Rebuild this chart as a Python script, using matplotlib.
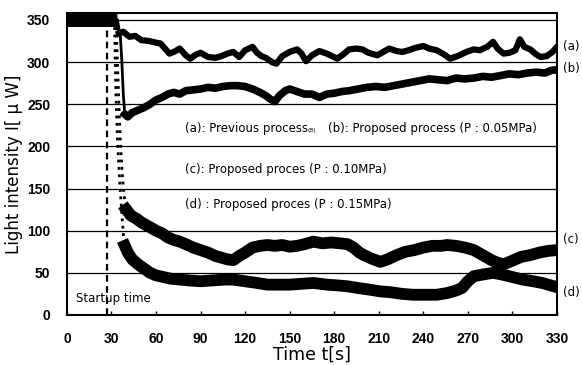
import numpy as np
import matplotlib
matplotlib.use("Agg")
import matplotlib.pyplot as plt

plt.rcParams['font.family'] = ['DejaVu Sans']

# (a) previous process
ta = [0, 33, 35, 38, 42, 46, 50, 55, 60, 63, 66, 69, 72, 76, 80, 83, 87, 90, 95, 100,
      104, 108, 112, 116, 120, 125, 128, 131, 134, 138, 141, 145, 150, 155, 158, 161,
      165, 170, 175, 182, 186, 190, 195, 199, 203, 209, 213, 217, 222, 226, 230, 235,
      240, 244, 249, 254, 258, 263, 269, 274, 278, 283, 287, 290, 294, 298, 302, 305,
      308, 312, 316, 319, 323, 327, 330]
va = [350, 350, 334, 336, 330, 331, 326, 325, 323, 322, 316, 310, 312, 316, 308, 304,
      309, 311, 306, 305, 307, 310, 312, 306, 314, 318, 311, 307, 305, 300, 298, 307,
      312, 315, 310, 301, 308, 313, 310, 304, 309, 315, 316, 315, 311, 308, 312, 316,
      313, 312, 314, 317, 319, 316, 314, 309, 304, 307, 312, 315, 314, 318, 324, 316,
      310, 311, 314, 327, 318, 315, 309, 306, 307, 312, 318]

# (b) proposed, P = 0.05 MPa
tb = [0, 34, 36, 37, 38, 39, 41, 44, 48, 52, 56, 60, 64, 68, 72, 76, 80, 85, 90, 95,
      100, 105, 110, 115, 120, 125, 130, 134, 137, 140, 143, 147, 150, 155, 160, 165,
      170, 175, 180, 185, 190, 196, 202, 208, 214, 220, 226, 232, 238, 244, 250, 256,
      262, 268, 274, 280, 286, 292, 298, 304, 310, 316, 322, 326, 330]
vb = [350, 350, 330, 300, 260, 238, 235, 240, 243, 246, 250, 255, 258, 262, 264, 262,
      266, 267, 268, 270, 269, 271, 272, 272, 271, 268, 264, 260, 256, 253, 260, 266,
      268, 265, 262, 262, 258, 262, 263, 265, 266, 268, 270, 271, 270, 272, 274, 276,
      278, 280, 279, 278, 281, 280, 281, 283, 282, 284, 286, 285, 287, 288, 287, 290, 291]

# (c) proposed, P = 0.10 MPa
tc = [0, 33, 34, 35, 36, 37, 38, 39, 40, 43, 47, 50, 55, 60, 64, 68, 72, 76, 80, 85,
      90, 95, 100, 104, 108, 112, 116, 120, 125, 130, 135, 140, 145, 150, 155, 160,
      166, 172, 178, 184, 189, 193, 197, 200, 205, 211, 216, 222, 228, 234, 240, 246,
      252, 256, 262, 268, 274, 280, 286, 290, 294, 298, 302, 306, 312, 318, 324, 330]
vc = [350, 350, 300, 250, 205, 175, 150, 135, 125, 118, 114, 110, 105, 100, 97, 92,
      89, 87, 84, 80, 77, 74, 70, 68, 66, 65, 70, 74, 80, 82, 83, 82, 83, 81, 82, 84,
      87, 85, 86, 85, 84, 80, 74, 71, 67, 63, 66, 71, 75, 77, 80, 82, 82, 83, 82, 80,
      77, 71, 65, 62, 60, 63, 66, 69, 71, 74, 76, 77]

# (d) proposed, P = 0.15 MPa
td = [0, 32, 33, 34, 35, 36, 37, 38, 39, 41, 44, 48, 52, 56, 60, 65, 70, 76, 82, 90,
      98, 106, 112, 120, 128, 135, 143, 150, 158, 166, 175, 183, 189, 196, 204, 211,
      218, 226, 233, 241, 249, 256, 262, 266, 270, 274, 280, 287, 293, 300, 307, 314,
      320, 326, 330]
vd = [350, 350, 260, 210, 175, 145, 120, 95, 82, 74, 66, 60, 55, 50, 47, 45, 43, 42,
      41, 40, 41, 42, 42, 40, 38, 36, 36, 36, 37, 38, 36, 35, 34, 32, 30, 28, 27, 25,
      24, 24, 24, 26, 29, 32, 40, 46, 48, 50, 48, 45, 42, 40, 38, 35, 33]

startup = 27
yticks = [0, 50, 100, 150, 200, 250, 300, 350]
xticks = list(range(0, 331, 30))

fig = plt.figure(figsize=(5.82, 3.65), dpi=100)
ax = fig.add_axes([0.115, 0.137, 0.842, 0.827])

for y in yticks[1:]:
    ax.axhline(y, color='black', lw=0.9, zorder=1)

# descents drawn thin, the rest as a thick band
def draw(t, v, t_cut, lw_band, ls_drop):
    t = np.array(t)
    v = np.array(v)
    k = np.searchsorted(t, t_cut)
    ax.plot(t[:2], v[:2], color='black', lw=9, solid_capstyle='butt', zorder=3)
    ax.plot(t[1:k + 1], v[1:k + 1], color='black', lw=2, ls=ls_drop, zorder=3)
    ax.plot(t[k:], v[k:], color='black', lw=lw_band, solid_joinstyle='round', zorder=3)

draw(ta, va, 35, 4.5, '-')
draw(tb, vb, 39, 5.5, '-')
draw(tc, vc, 40, 8.5, ':')
draw(td, vd, 39, 8.5, ':')

ax.plot([startup, startup], [0, 338], color='black', lw=1.6, ls=(0, (3, 2)), zorder=2)

ax.set_xlim(0, 330)
ax.set_ylim(0, 358)
ax.set_xticks(xticks)
ax.set_yticks(yticks)
ax.set_xticklabels([str(x) for x in xticks], family='Liberation Sans',
                   fontweight='bold', fontsize=10)
ax.set_yticklabels([str(y) for y in yticks], family='Liberation Sans',
                   fontweight='bold', fontsize=10)
ax.tick_params(axis='x', direction='in', length=3, width=1, pad=12)
ax.tick_params(axis='y', length=0, pad=12)
for s in ax.spines.values():
    s.set_linewidth(1.5)

ax.set_xlabel('Time t[s]', fontsize=12.5, labelpad=0)
ax.set_ylabel('Light intensity I[ μ W]', fontsize=12, labelpad=3)

fs = 8.5
ax.text(79.5, 221, '(a): Previous process', fontsize=fs, va='center')
ax.text(162, 219, '(8)', fontsize=4.5, va='center')
ax.text(176, 221, '(b): Proposed process (P : 0.05MPa)', fontsize=fs, va='center')
ax.text(79.5, 173, '(c): Proposed proces (P : 0.10MPa)', fontsize=fs, va='center')
ax.text(79.5, 131, '(d) : Proposed proces (P : 0.15MPa)', fontsize=fs, va='center')
ax.text(6, 20, 'Startup time', fontsize=fs, va='center')

for lab, y in [('(a)', 319), ('(b)', 292), ('(c)', 89), ('(d)', 27)]:
    ax.text(334, y, lab, fontsize=8.5, va='center', clip_on=False)

fig.savefig('out.png', dpi=100)
